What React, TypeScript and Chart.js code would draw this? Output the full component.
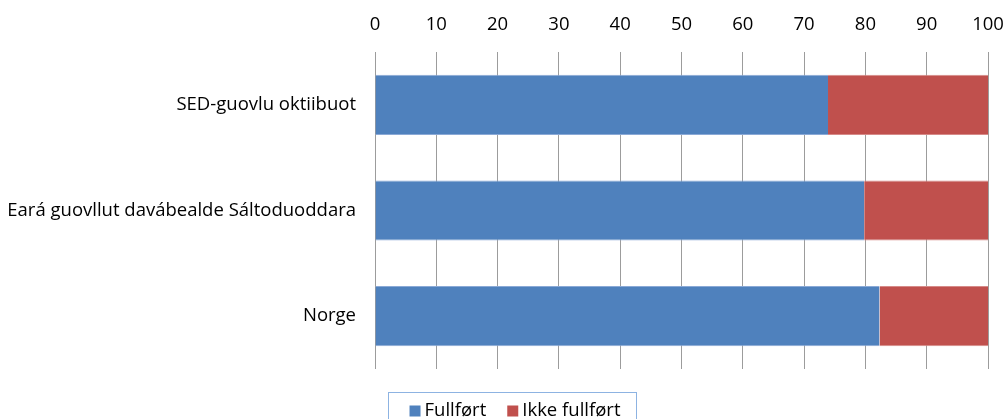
import React, { useEffect, useRef } from "react";
import { Chart, registerables } from "chart.js";

Chart.register(...registerables);

const categories = ["SED-guovlu oktiibuot", "Eará guovllut davábealde Sáltoduoddara", "Norge"];
const fullfort = [73.9, 79.8, 82.3];
const ikkeFullfort = [26.1, 20.2, 17.7];
const seriesNames = ["Fullført", "Ikke fullført"];
const seriesColors = ["#4f81bd", "#c0504d"];
const seriesEdges = ["#8aa9d6", "#d68a88"];
const xMin = 0;
const xMax = 100;
const xStep = 10;

const FONT = "'Open Sans', Lato, sans-serif";
const FS = 18.5;
const W = 1006;
const H = 419;

const boxLegend = {
  id: "boxLegend",
  afterDraw(chart: any) {
    const ctx = chart.ctx as CanvasRenderingContext2D;
    ctx.save();
    ctx.font = `${FS}px ${FONT}`;
    const items = chart.data.datasets.map((ds: any) => ({
      label: ds.label as string,
      color: ds.backgroundColor as string,
      w: ctx.measureText(ds.label).width,
    }));
    const sq = 11;
    const gapSqText = 4;
    const gapItems = 21;
    const total =
      items.reduce((a: number, it: any) => a + sq + gapSqText + it.w, 0) + gapItems * (items.length - 1);
    const cx = 515;
    const cy = 411;
    const boxW = 248;
    ctx.strokeStyle = "#8db3e2";
    ctx.lineWidth = 1;
    ctx.strokeRect(388.5, 392.5, boxW, 40);
    let x = cx - total / 2;
    ctx.textBaseline = "middle";
    ctx.textAlign = "left";
    items.forEach((it: any) => {
      ctx.fillStyle = it.color;
      ctx.fillRect(x, cy - sq / 2, sq, sq);
      x += sq + gapSqText;
      ctx.fillStyle = "#000";
      ctx.fillText(it.label, x, cy);
      x += it.w + gapItems;
    });
    ctx.restore();
  },
};

export default function App() {
  const ref = useRef<HTMLCanvasElement | null>(null);

  useEffect(() => {
    if (!ref.current) return;
    const chart = new Chart(ref.current, {
      type: "bar",
      data: {
        labels: categories,
        datasets: [
          {
            label: seriesNames[0],
            data: fullfort,
            backgroundColor: seriesColors[0],
            borderColor: seriesEdges[0],
            borderWidth: { top: 1, bottom: 1, left: 0, right: 0 },
            borderSkipped: false,
            barPercentage: 0.57,
            categoryPercentage: 1,
          },
          {
            label: seriesNames[1],
            data: ikkeFullfort,
            backgroundColor: seriesColors[1],
            borderColor: seriesEdges[1],
            borderWidth: { top: 1, bottom: 1, left: 0, right: 0 },
            borderSkipped: false,
            barPercentage: 0.57,
            categoryPercentage: 1,
          },
        ],
      },
      options: {
        indexAxis: "y",
        responsive: false,
        animation: false,
        layout: { padding: { left: 0, right: 18, top: 0, bottom: 50 } },
        plugins: {
          legend: { display: false },
          tooltip: { enabled: false },
        },
        scales: {
          x: {
            position: "top",
            stacked: true,
            min: xMin,
            max: xMax,
            ticks: {
              stepSize: xStep,
              color: "#000",
              font: { family: FONT, size: FS },
              padding: 16,
            },
            grid: { color: "#9c9c9c", lineWidth: 1, drawTicks: false },
            border: { display: false },
            afterFit: (s: any) => {
              s.height = 52;
              s.paddingRight = 0;
              s.paddingLeft = 0;
            },
          },
          y: {
            stacked: true,
            ticks: {
              color: "#000",
              font: { family: FONT, size: FS },
              padding: 19,
            },
            grid: { display: false, drawTicks: false },
            border: { display: false },
            afterFit: (s: any) => {
              s.width = 375;
              s.paddingTop = 0;
              s.paddingBottom = 0;
            },
          },
        },
      },
      plugins: [boxLegend],
    });
    return () => chart.destroy();
  }, []);

  return (
    <div style={{ position: "fixed", left: 0, top: 0, width: W, height: H, overflow: "hidden", background: "#fff" }}>
      <canvas ref={ref} width={W} height={H} style={{ display: "block" }} />
    </div>
  );
}
